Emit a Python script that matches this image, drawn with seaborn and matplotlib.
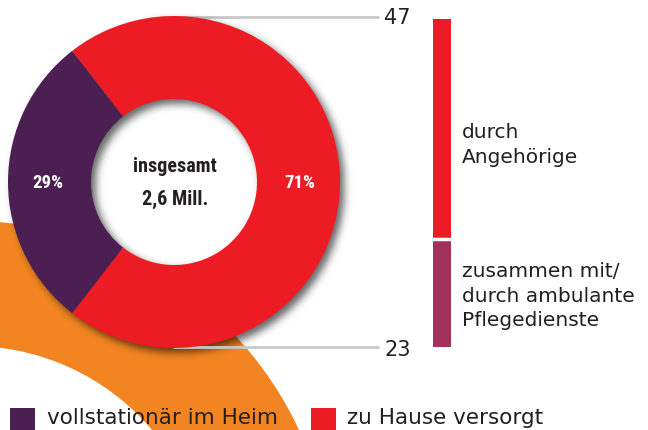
import matplotlib
matplotlib.use("Agg")
import matplotlib.pyplot as plt
from matplotlib.patches import Wedge
from matplotlib import font_manager
import seaborn as sns
import pandas as pd
import numpy as np

# ---- data ----
pie_labels = ["vollstationär im Heim", "zu Hause versorgt"]
pie_shares = [29, 71]
total_text = ["insgesamt", "2,6 Mill."]
bar_labels = ["zusammen mit/\ndurch ambulante\nPflegedienste", "durch\nAngehörige"]
bar_values = [23, 47]

# ---- style ----
sns.set_theme(style="white")
plt.rcParams["font.family"] = ["DejaVu Sans"]
names = {f.name for f in font_manager.fontManager.ttflist}
NARROW = ["DejaVu Sans"]
for cand in ["Roboto Condensed", "Liberation Sans Narrow", "DejaVu Sans Condensed", "Roboto"]:
    if cand in names:
        NARROW = [cand, "DejaVu Sans"]
        break
is_cond = NARROW[0] != "Roboto"
cfs = 14.5 if is_cond else 13

PURPLE = "#4B1F52"
RED = "#ED1C24"
BARPURPLE = "#A3325A"
ORANGE = "#F28522"
TXT = "#231F20"
GREY = "#C8C8C8"

W, H = 648, 431
fig = plt.figure(figsize=(W / 100, H / 100), dpi=100)
ax = fig.add_axes([0, 0, 1, 1])

# background orange arc
ax.add_patch(Wedge((-29, -153), 362, 0, 360, width=125, facecolor=ORANGE,
                   edgecolor="none", zorder=0))

cx, cy, R = 174, 248, 166
r_in = R * 0.5

# soft drop shadow (blurred, offset ring) as an image
yy, xx = np.mgrid[0:H, 0:W]
py = H - yy - 0.5
px = xx + 0.5
off = 4.5
d = np.hypot(px - (cx + off), py - (cy - off))
ring = ((d <= R) & (d >= r_in)).astype(float)
sig = 4.0
k = np.arange(-13, 14)
ker = np.exp(-k ** 2 / (2 * sig ** 2))
ker /= ker.sum()
blur = np.apply_along_axis(lambda r: np.convolve(r, ker, mode="same"), 1, ring)
blur = np.apply_along_axis(lambda c: np.convolve(c, ker, mode="same"), 0, blur)
shadow = np.zeros((H, W, 4))
shadow[..., 3] = blur * 0.6
ax.imshow(shadow, extent=(0, W, 0, H), origin="upper", zorder=1,
          interpolation="bilinear", aspect="auto")

wedges, _, autotexts = ax.pie(
    pie_shares, colors=[PURPLE, RED], startangle=180 - pie_shares[0] * 1.8,
    counterclock=True, radius=R, center=(cx, cy),
    wedgeprops=dict(width=R - r_in, edgecolor="none"),
    autopct=lambda p: f"{p:.0f}%", pctdistance=0.76,
    textprops=dict(color="white", fontsize=cfs - 1, fontweight="bold", family=NARROW),
)
for w in wedges:
    w.set_zorder(2)
for t in autotexts:
    t.set_zorder(3)

ax.text(cx + 1, cy + 16, total_text[0], ha="center", va="center", fontsize=cfs,
        fontweight="bold", color=TXT, family=NARROW, zorder=3)
ax.text(cx + 1, cy - 16, total_text[1], ha="center", va="center", fontsize=cfs,
        fontweight="bold", color=TXT, family=NARROW, zorder=3)

# connector lines
ax.plot([cx - 10, 378], [cy + R - 1, cy + R - 1], color=GREY, lw=2, zorder=0.5)
ax.plot([cx, 378], [cy - R + 1, cy - R + 1], color=GREY, lw=2, zorder=1.5)
ax.text(384, cy + R - 1, str(bar_values[1]), ha="left", va="center", fontsize=15, color=TXT)
ax.text(384, cy - R - 1, str(bar_values[0]), ha="left", va="center", fontsize=15, color=TXT)

ax.set_xlim(0, W)
ax.set_ylim(0, H)
ax.set_aspect("auto")
ax.axis("off")

# stacked bar on the right
bx = fig.add_axes([433 / W, (H - 348) / H, 18 / W, 328 / H])
df = pd.DataFrame({"seg": ["all"], "total": [sum(bar_values)], "low": [bar_values[0]]})
sns.barplot(data=df, x="seg", y="total", color=RED, saturation=1, width=1.0,
            edgecolor="none", ax=bx)
sns.barplot(data=df, x="seg", y="low", color=BARPURPLE, saturation=1, width=1.0,
            edgecolor="none", ax=bx)
bx.axhline(bar_values[0], color="white", lw=2.5)
bx.set_xlim(-0.5, 0.5)
bx.set_ylim(0, sum(bar_values))
bx.axis("off")

# bar labels
ax.text(462, H - 145, bar_labels[1], ha="left", va="center", fontsize=14.5,
        color=TXT, linespacing=1.45)
ax.text(462, H - 296, bar_labels[0], ha="left", va="center", fontsize=14.5,
        color=TXT, linespacing=1.38)

# legend
ax.add_patch(plt.Rectangle((10, 0), 25, 22, facecolor=PURPLE, edgecolor="none", zorder=3))
ax.add_patch(plt.Rectangle((311, 0), 25, 22, facecolor=RED, edgecolor="none", zorder=3))
ax.text(47, 13, pie_labels[0], ha="left", va="center", fontsize=15.5, color=TXT, zorder=3)
ax.text(347, 13, pie_labels[1], ha="left", va="center", fontsize=15.5, color=TXT, zorder=3)

fig.savefig("out.png", dpi=100)
